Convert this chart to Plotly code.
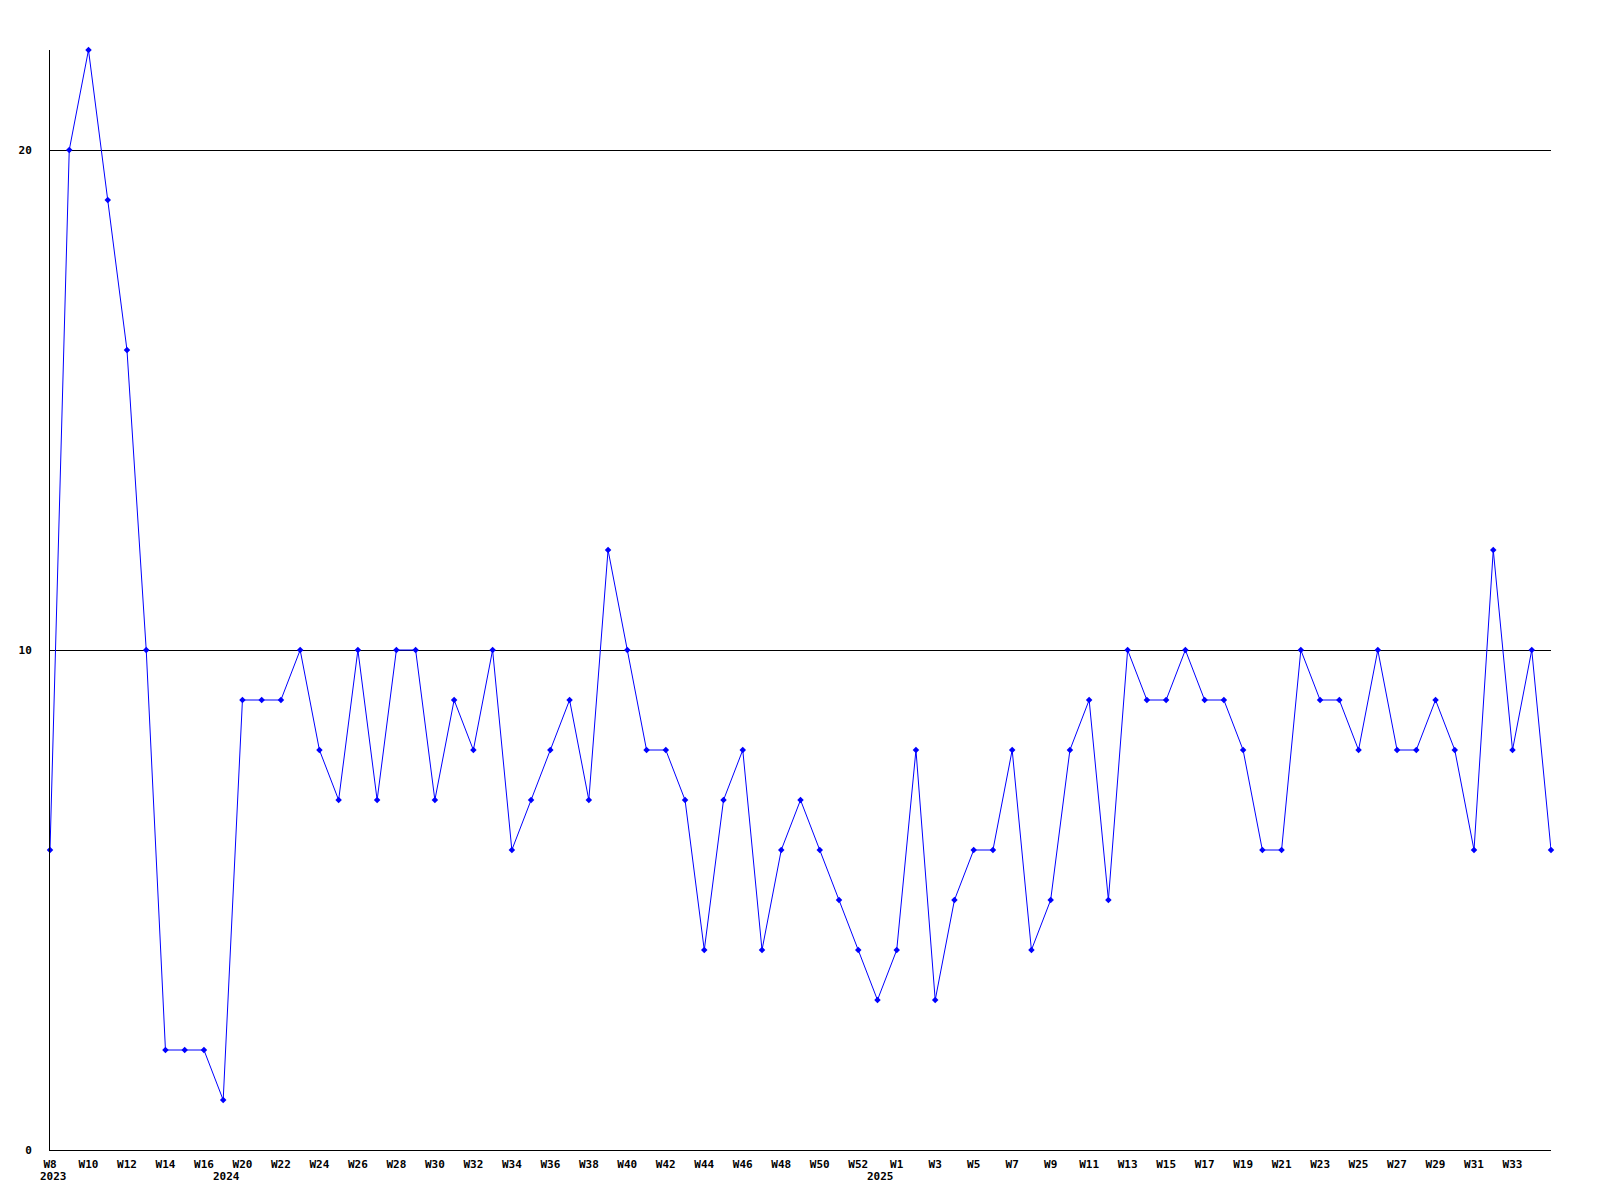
import plotly.graph_objects as go

# Week tick labels (every second point) and year labels
week_labels = ["W8", "W10", "W12", "W14", "W16", "W20", "W22", "W24", "W26", "W28",
               "W30", "W32", "W34", "W36", "W38", "W40", "W42", "W44", "W46", "W48",
               "W50", "W52", "W1", "W3", "W5", "W7", "W9", "W11", "W13", "W15",
               "W17", "W19", "W21", "W23", "W25", "W27", "W29", "W31", "W33"]
year_labels = ["2023", "2024", "2025"]
year_index = [0, 9, 43]

values = [6, 20, 22, 19, 16, 10, 2, 2, 2, 1,
          9, 9, 9, 10, 8, 7, 10, 7, 10, 10,
          7, 9, 8, 10, 6, 7, 8, 9, 7, 12,
          10, 8, 8, 7, 4, 7, 8, 4, 6, 7,
          6, 5, 4, 3, 4, 8, 3, 5, 6, 6,
          8, 4, 5, 8, 9, 5, 10, 9, 9, 10,
          9, 9, 8, 6, 6, 10, 9, 9, 8, 10,
          8, 8, 9, 8, 6, 12, 8, 10, 6]

y_ticks = [0, 10, 20]

x = list(range(len(values)))
tick_idx = list(range(0, 2 * len(week_labels), 2))

font = dict(family="DejaVu Sans Mono", size=11, color="black", weight="bold")

fig = go.Figure()
fig.add_trace(go.Scatter(
    x=x, y=values, mode="lines+markers",
    line=dict(color="#0000FF", width=1),
    marker=dict(color="#0000FF", symbol="diamond", size=5),
    cliponaxis=False, showlegend=False,
))

for lbl, idx in zip(year_labels, year_index):
    fig.add_annotation(x=idx, y=-0.0245, xref="x", yref="paper", text=lbl,
                       showarrow=False, font=font, xanchor="center", yanchor="middle",
                       xshift=3)

fig.update_layout(
    width=1600, height=1200,
    margin=dict(l=42, r=57, t=42, b=58),
    paper_bgcolor="white", plot_bgcolor="white",
    font=font,
)
fig.update_xaxes(
    range=[0, len(values) - 1], tickvals=tick_idx, ticktext=week_labels,
    showgrid=False, zeroline=False, showline=True, linecolor="black", linewidth=1,
    ticks="", tickfont=font, ticklabelstandoff=4,
)
fig.update_yaxes(
    range=[0, 22], tickvals=y_ticks, ticktext=[str(v) for v in y_ticks],
    showgrid=True, gridcolor="black", gridwidth=1, zeroline=False,
    showline=True, linecolor="black", linewidth=1,
    ticks="", tickfont=font, ticklabelstandoff=15,
)

fig.write_html("out.html")
